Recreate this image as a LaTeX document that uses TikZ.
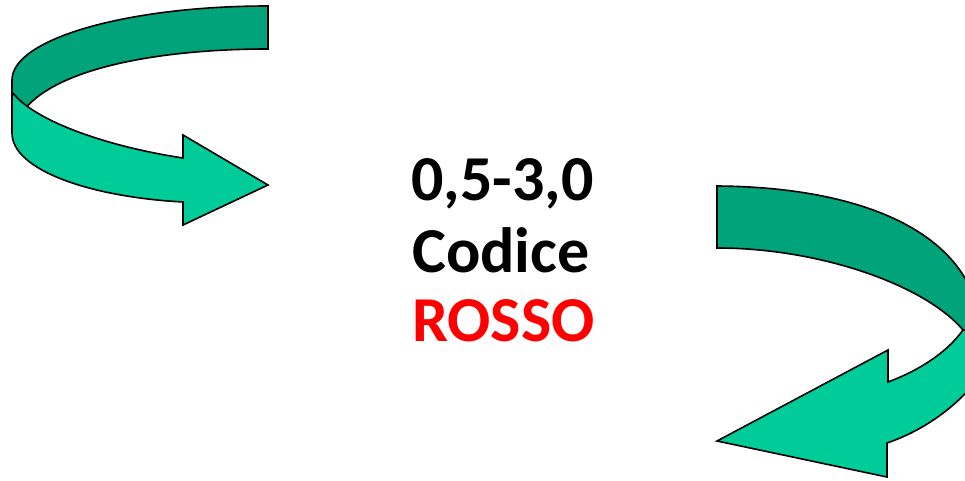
\documentclass[tikz,border=0pt]{standalone}
\usepackage{fontspec}
\setmainfont{Carlito}
\definecolor{bandlight}{RGB}{0,204,153}
\definecolor{banddark}{RGB}{0,163,122}
\definecolor{rosso}{RGB}{255,0,0}

\begin{document}
\begin{tikzpicture}[x=1pt,y=-1pt,
  outline/.style={draw=black, line width=1.6pt, line join=miter},
  front/.style={outline, fill=bandlight},
  back/.style={outline, fill=banddark},
  bigtext/.style={font=\fontsize{64}{76}\selectfont\bfseries, anchor=base west, inner sep=0pt}]
\useasboundingbox (0,0) rectangle (965,481);
\clip (0,0) rectangle (965,481);

% upper-left curved arrow: back band, then front band with head
\path[back] (268,6) .. controls (127,6) and (12,39) .. (12,80) -- (12,100) -- (24,110)
  .. controls (60,65) and (170,49) .. (268,49) -- cycle;
\path[front] (12,92) -- (12,133) .. controls (12,170) and (90,197) .. (183,202)
  -- (183,225) -- (268,185) -- (183,135) -- (183,158)
  .. controls (110,147) and (35,122) .. (12,92) -- cycle;

% lower-right curved arrow: front band with head, then back band
\path[front] (963,330) .. controls (945,355) and (915,372) .. (888,382)
  -- (888,350) -- (717,441) -- (887,477) -- (887,443)
  .. controls (925,430) and (960,405) .. (985,370) -- (985,330) -- cycle;
\path[back] (717,186) .. controls (850,187) and (950,225) .. (975,300)
  -- (985,300) -- (985,330) -- (963,330)
  .. controls (925,285) and (820,248) .. (717,248) -- cycle;

% centred caption
\node[bigtext] (range) at (411,200) {0,5-3,0};
\node[bigtext] (codice) at (412,272) {Codice};
\node[bigtext, text=rosso] (rosso) at (412,341) {ROSSO};
\end{tikzpicture}
\end{document}
